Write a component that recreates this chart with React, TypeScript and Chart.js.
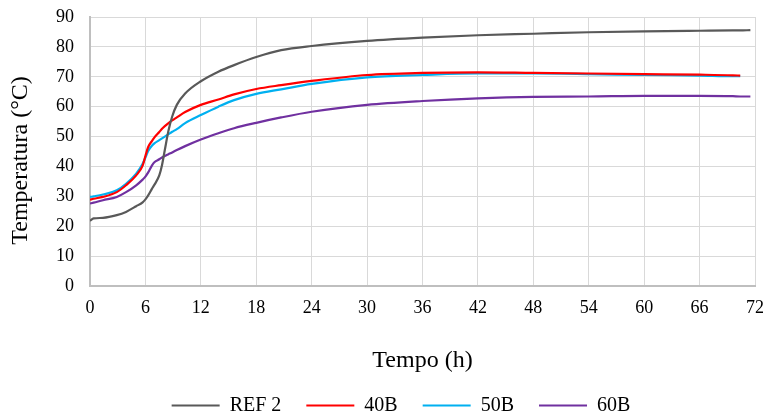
import React, { useEffect, useRef } from "react";
import { Chart, registerables } from "chart.js";

Chart.register(...registerables);

const hours = [0, 0.4, 1.4, 2.9, 3.9, 5, 5.7, 6, 6.3, 6.7, 7, 7.5, 7.8, 8.1, 8.5, 8.9, 9.4, 10.3, 12, 13.9, 15.6, 18, 20.7, 24, 30, 36, 42, 48, 54, 60, 66, 69.6, 70.4, 71.5];

const ref2 = [21.8, 22.6, 22.8, 23.7, 24.8, 26.7, 28, 29, 30.3, 32.5, 34, 37, 40.5, 45.5, 52, 56.7, 60.6, 64.4, 68.5, 71.7, 73.9, 76.6, 78.9, 80.3, 82, 83.1, 83.9, 84.4, 84.9, 85.2, 85.4, 85.5, 85.5, 85.6];

const b40 = [28.9, 29.2, 29.8, 31.4, 33.7, 37, 40.3, 43.5, 46.5, 48.5, 49.8, 51.5, 52.6, 53.5, 54.5, 55.4, 56.4, 58.2, 60.6, 62.4, 64.1, 65.9, 67.2, 68.6, 70.6, 71.3, 71.5, 71.3, 71.1, 70.9, 70.7, 70.5, 70.4, null];

const b50 = [29.8, 30, 30.6, 32, 34.2, 37.6, 40.9, 43, 45.2, 46.9, 47.8, 48.8, 49.4, 50, 50.8, 51.6, 52.5, 54.5, 57.2, 60, 62.2, 64.3, 65.8, 67.6, 69.8, 70.6, 71.1, 71.1, 70.9, 70.6, 70.4, 70.2, 70.2, null];

const b60 = [27.6, 27.9, 28.7, 29.8, 31.4, 33.7, 35.6, 36.6, 38, 40.3, 41.5, 42.4, 43, 43.5, 44.1, 44.7, 45.5, 46.8, 49, 51.1, 52.8, 54.6, 56.4, 58.3, 60.6, 61.9, 62.8, 63.3, 63.4, 63.6, 63.6, 63.5, 63.4, 63.4];

const seriesNames = ["REF 2", "40B", "50B", "60B"];
const seriesColors = ["#595959", "#FF0000", "#00B0F0", "#7030A0"];
const seriesValues = [ref2, b40, b50, b60];

const FONT = "'Liberation Serif', 'Times New Roman', serif";

export default function App() {
  const canvasRef = useRef<HTMLCanvasElement | null>(null);

  useEffect(() => {
    document.body.style.margin = "0";
    const canvas = canvasRef.current;
    if (!canvas) return;

    const legendShift = {
      id: "legendShift",
      beforeDraw(chart: any) {
        const lg = chart.legend;
        if (lg) {
          lg.left = 19;
          lg.right = 783;
        }
      },
    };

    const chart = new Chart(canvas, {
      type: "line",
      data: {
        datasets: seriesNames.map((name, i) => ({
          label: name,
          data: hours.map((h, j) => ({ x: h, y: seriesValues[i][j] })),
          borderColor: seriesColors[i],
          backgroundColor: seriesColors[i],
          borderWidth: 2.2,
          pointRadius: 0,
          fill: false,
          cubicInterpolationMode: "monotone",
          spanGaps: false,
        })),
      },
      options: {
        animation: false,
        responsive: false,
        maintainAspectRatio: false,
        layout: { padding: { left: 0, right: 11, top: 17, bottom: -11.5 } },
        plugins: {
          tooltip: { enabled: false },
          legend: {
            position: "bottom",
            labels: {
              boxWidth: 48,
              boxHeight: 2,
              padding: 25,
              color: "#000",
              font: { family: FONT, size: 20 },
              generateLabels: (c: any) =>
                (Chart.defaults.plugins.legend.labels.generateLabels as any)(c).map((l: any) => ({
                  ...l,
                  lineWidth: 0,
                })),
            },
          },
        },
        scales: {
          x: {
            type: "linear",
            min: 0,
            max: 72,
            ticks: {
              stepSize: 6,
              color: "#000",
              padding: 11,
              font: { family: FONT, size: 18 },
            },
            grid: { color: "#d9d9d9", lineWidth: 1, drawTicks: false },
            border: { color: "#bfbfbf", width: 2 },
            title: {
              display: true,
              text: "Tempo (h)",
              color: "#000",
              font: { family: FONT, size: 24 },
              padding: { top: 0, bottom: -5 },
            },
            afterFit: (scale: any) => {
              scale.height = 84.5;
            },
          },
          y: {
            type: "linear",
            min: 0,
            max: 90,
            ticks: {
              stepSize: 10,
              color: "#000",
              padding: 16,
              font: { family: FONT, size: 18 },
            },
            grid: { color: "#d9d9d9", lineWidth: 1, drawTicks: false },
            border: { color: "#bfbfbf", width: 2 },
            title: {
              display: true,
              text: "Temperatura (°C)   ",
              color: "#000",
              font: { family: FONT, size: 24 },
              padding: { top: 6, bottom: 0 },
            },
            afterFit: (scale: any) => {
              scale.width = 90;
              scale.paddingTop = 0;
              scale.paddingBottom = 0;
            },
          },
        },
      } as any,
      plugins: [legendShift],
    });

    return () => chart.destroy();
  }, []);

  return (
    <div style={{ width: 775, height: 414 }}>
      <canvas ref={canvasRef} width={775} height={414} style={{ display: "block" }} />
    </div>
  );
}
